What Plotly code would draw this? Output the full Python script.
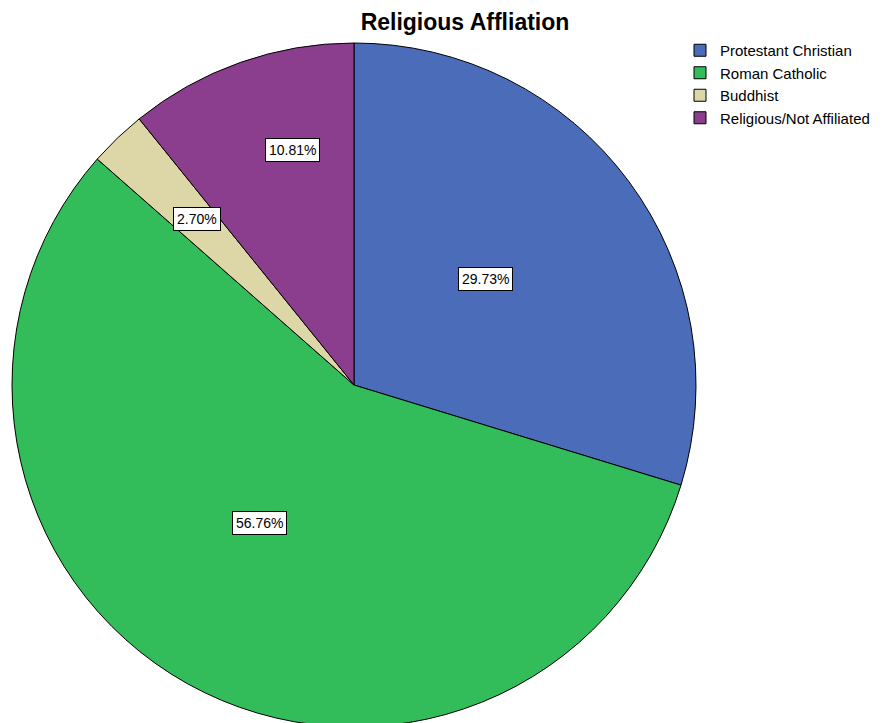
import math
import plotly.graph_objects as go

# data
labels = ["Protestant Christian", "Roman Catholic", "Buddhist", "Religious/Not Affiliated"]
counts = [11, 21, 1, 4]
colors = ["#4a6cb9", "#33bd5a", "#ddd6a6", "#8b3e8e"]

W, H = 886, 723
# pie placement in pixels (page body adds an 8px offset)
cx, top, diam = 346, 35, 684
dom_x = [(cx - diam / 2) / W, (cx + diam / 2) / W]
dom_y = [1 - (top + diam) / H, 1 - top / H]
radius = diam / 2
cy = top + radius

# where the percentage boxes sit: fraction of the radius, nudge in degrees
label_r = [0.495, 0.49, 0.668, 0.71]
label_nudge = [-2.3, 5.3, 0.4, 4.7]

fig = go.Figure()
fig.add_trace(go.Pie(
    labels=labels,
    values=counts,
    sort=False,
    direction="clockwise",
    rotation=0,
    textinfo="none",
    hoverinfo="label+percent",
    marker=dict(colors=colors, line=dict(color="#000000", width=1)),
    domain=dict(x=dom_x, y=dom_y),
))

total = sum(counts)
start = 0.0
for i, v in enumerate(counts):
    mid = (start + v / 2) / total * 2 * math.pi + math.radians(label_nudge[i])
    start += v
    px = cx + label_r[i] * radius * math.sin(mid)
    py = cy - label_r[i] * radius * math.cos(mid)
    fig.add_annotation(
        x=px / W, y=1 - py / H, xref="paper", yref="paper",
        xanchor="center", yanchor="middle",
        text=f"{v / total * 100:.2f}%", showarrow=False,
        font=dict(family="Liberation Sans, Arial", size=14, color="#000000"),
        bgcolor="#ffffff", bordercolor="#000000", borderwidth=1, borderpad=3,
    )

fig.update_layout(
    width=W,
    height=H,
    margin=dict(l=0, r=0, t=0, b=0),
    paper_bgcolor="#ffffff",
    title=dict(
        text="<b>Religious Affliation</b>",
        x=457 / W, xanchor="center", xref="paper",
        y=1 - 14 / H, yanchor="middle", yref="container",
        font=dict(family="Liberation Sans, Arial", size=23, color="#000000"),
    ),
    legend=dict(
        x=672 / W, y=1 - 26 / H, xanchor="left", yanchor="top",
        font=dict(family="Liberation Sans, Arial", size=15, color="#000000"),
        bgcolor="rgba(0,0,0,0)",
    ),
    font=dict(family="Liberation Sans, Arial"),
)

fig.write_html("out.html")
